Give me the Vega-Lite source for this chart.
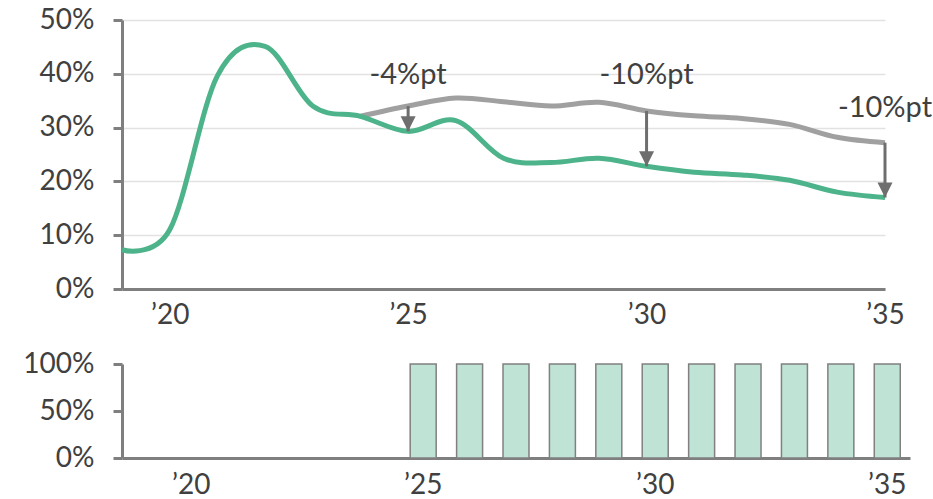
{
  "$schema": "https://vega.github.io/schema/vega-lite/v6.json",
  "autosize": {"type": "pad"},
  "padding": {"left": 22, "top": 6, "right": 0, "bottom": 0},
  "background": "white",
  "bounds": "flush",
  "spacing": 75,
  "config": {
    "view": {"stroke": null},
    "font": "Lato",
    "axis": {
      "labelFont": "Lato",
      "labelFontSize": 28,
      "labelColor": "#404040",
      "domainColor": "#7f7f7f",
      "domainWidth": 3,
      "tickColor": "#7f7f7f",
      "tickWidth": 3,
      "title": null
    }
  },
  "datasets": {
    "lines": [
      {"year": 2019, "series": "scenario", "value": 0.073},
      {"year": 2020, "series": "scenario", "value": 0.11},
      {"year": 2021, "series": "scenario", "value": 0.396},
      {"year": 2022, "series": "scenario", "value": 0.451},
      {"year": 2023, "series": "scenario", "value": 0.34},
      {"year": 2024, "series": "scenario", "value": 0.321},
      {"year": 2025, "series": "scenario", "value": 0.293},
      {"year": 2026, "series": "scenario", "value": 0.313},
      {"year": 2027, "series": "scenario", "value": 0.243},
      {"year": 2028, "series": "scenario", "value": 0.235},
      {"year": 2029, "series": "scenario", "value": 0.243},
      {"year": 2030, "series": "scenario", "value": 0.228},
      {"year": 2031, "series": "scenario", "value": 0.217},
      {"year": 2032, "series": "scenario", "value": 0.212},
      {"year": 2033, "series": "scenario", "value": 0.202},
      {"year": 2034, "series": "scenario", "value": 0.18},
      {"year": 2035, "series": "scenario", "value": 0.17},
      {"year": 2024, "series": "baseline", "value": 0.321},
      {"year": 2025, "series": "baseline", "value": 0.34},
      {"year": 2026, "series": "baseline", "value": 0.355},
      {"year": 2027, "series": "baseline", "value": 0.348},
      {"year": 2028, "series": "baseline", "value": 0.34},
      {"year": 2029, "series": "baseline", "value": 0.347},
      {"year": 2030, "series": "baseline", "value": 0.331},
      {"year": 2031, "series": "baseline", "value": 0.322},
      {"year": 2032, "series": "baseline", "value": 0.317},
      {"year": 2033, "series": "baseline", "value": 0.306},
      {"year": 2034, "series": "baseline", "value": 0.282},
      {"year": 2035, "series": "baseline", "value": 0.272}
    ],
    "arrows": [
      {"year": 2025, "from": 0.34, "to": 0.293},
      {"year": 2030, "from": 0.331, "to": 0.228},
      {"year": 2035, "from": 0.272, "to": 0.17}
    ],
    "notes": [
      {"year": 2025, "level": 0.397, "text": "-4%pt"},
      {"year": 2030, "level": 0.397, "text": "-10%pt"},
      {"year": 2035, "level": 0.337, "text": "-10%pt"}
    ],
    "bars": [
      {"year": 2025, "share": 1},
      {"year": 2026, "share": 1},
      {"year": 2027, "share": 1},
      {"year": 2028, "share": 1},
      {"year": 2029, "share": 1},
      {"year": 2030, "share": 1},
      {"year": 2031, "share": 1},
      {"year": 2032, "share": 1},
      {"year": 2033, "share": 1},
      {"year": 2034, "share": 1},
      {"year": 2035, "share": 1}
    ]
  },
  "vconcat": [
    {
      "width": 763,
      "height": 269,
      "encoding": {
        "x": {
          "field": "year",
          "type": "quantitative",
          "scale": {"domain": [2019, 2035], "nice": false, "zero": false},
          "axis": {
            "values": [2020, 2025, 2030, 2035],
            "format": "d",
            "labelExpr": "'’' + substring(datum.label, 2)",
            "labelFlush": false,
            "labelOverlap": false,
            "ticks": false,
            "grid": false,
            "labelPadding": 12
          }
        }
      },
      "layer": [
        {
          "data": {"name": "lines"},
          "transform": [{"filter": "datum.series === 'baseline'"}],
          "mark": {"type": "line", "interpolate": "cardinal", "tension": 0, "color": "#a0a0a0", "strokeWidth": 5},
          "encoding": {
            "y": {
              "field": "value",
              "type": "quantitative",
              "scale": {"domain": [0, 0.5]},
              "axis": {
                "values": [0, 0.1, 0.2, 0.3, 0.4, 0.5],
                "format": ".0%",
                "grid": true,
                "gridColor": "#e2e2e2",
                "gridWidth": 1.5,
                "tickSize": 9,
                "labelPadding": 19
              }
            }
          }
        },
        {
          "data": {"name": "lines"},
          "transform": [{"filter": "datum.series === 'scenario'"}],
          "mark": {"type": "line", "interpolate": "cardinal", "tension": 0, "color": "#4db38a", "strokeWidth": 5},
          "encoding": {"y": {"field": "value", "type": "quantitative"}}
        },
        {
          "data": {"name": "arrows"},
          "mark": {"type": "rule", "color": "#6e6e6e", "strokeWidth": 3},
          "encoding": {
            "y": {"field": "from", "type": "quantitative"},
            "y2": {"field": "to"}
          }
        },
        {
          "data": {"name": "arrows"},
          "mark": {"type": "point", "shape": "M-1,-2L1,-2L0,0Z", "size": 225, "filled": true, "color": "#6e6e6e", "opacity": 1},
          "encoding": {"y": {"field": "to", "type": "quantitative"}}
        },
        {
          "data": {"name": "notes"},
          "mark": {"type": "text", "font": "Lato", "fontSize": 29, "color": "#404040", "baseline": "middle", "align": "center"},
          "encoding": {
            "y": {"field": "level", "type": "quantitative"},
            "text": {"field": "text"}
          }
        }
      ]
    },
    {
      "width": 788,
      "height": 94,
      "data": {"name": "bars"},
      "mark": {"type": "bar", "color": "#bfe3d5", "stroke": "#808080", "strokeWidth": 1.5},
      "encoding": {
        "x": {
          "field": "year",
          "type": "ordinal",
          "scale": {
            "domain": [2019, 2020, 2021, 2022, 2023, 2024, 2025, 2026, 2027, 2028, 2029, 2030, 2031, 2032, 2033, 2034, 2035],
            "paddingInner": 0.44,
            "paddingOuter": 0.21
          },
          "axis": {
            "values": [2020, 2025, 2030, 2035],
            "labelExpr": "'’' + substring(datum.label, 2)",
            "labelAngle": 0,
            "ticks": false,
            "labelPadding": 13
          }
        },
        "y": {
          "field": "share",
          "type": "quantitative",
          "scale": {"domain": [0, 1]},
          "axis": {
            "values": [0, 0.5, 1],
            "format": ".0%",
            "grid": false,
            "tickSize": 9,
            "labelPadding": 19
          }
        }
      }
    }
  ]
}
